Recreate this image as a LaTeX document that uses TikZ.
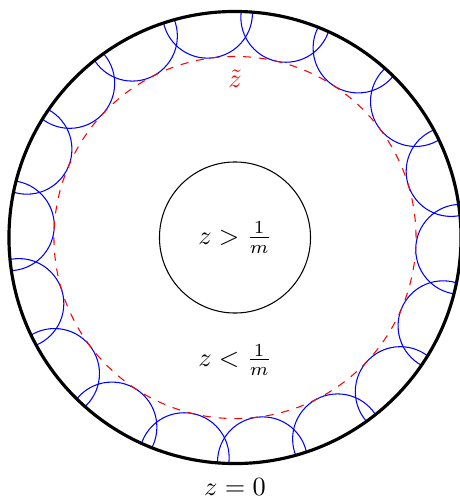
\documentclass[tikz,border=0pt]{standalone}
\usepackage{amsmath}
\usepackage{amssymb}
\usetikzlibrary{positioning, backgrounds}

\begin{document}
\begin{tikzpicture}[
    x=0.38pt, y=0.38pt,
    rim/.style={draw,circle,line width=1.2pt,outer sep=0pt,minimum size=171.8pt,inner sep=0pt},
    core/.style={draw,circle,thin,minimum size=57.4pt,inner sep=0pt},
    level/.style={draw=red,circle,thin,dashed,minimum size=137.6pt,inner sep=0pt},
    bubble/.style={draw=blue,thin},
    tag/.style={inner sep=1pt}
  ]
    \useasboundingbox (-235,-259.5) rectangle (225,237.5);
    \node[rim] (rim) at (0,0) {};
    \node[level] (level) at (rim.center) {};
    \node[core] (core) at (rim.center) {$z>\frac{1}{m}$};
    \node[tag, text=red] (ztilde) at ([yshift=60.4pt]rim.center) {$\tilde{z}$};
    \node[tag] (below) at ([yshift=-46.5pt]rim.center) {$z<\frac{1}{m}$};
    \node[tag, anchor=base] (edge) at ([yshift=-98pt]rim.center) {$z=0$};

    \begin{scope}[on background layer]
      \clip (rim.center) circle[radius=85.9pt];
      \foreach \a in {17.5,37.5,...,357.5}
        \draw[bubble] (rim.\a) circle[radius=17.1pt];
    \end{scope}
  \end{tikzpicture}
\end{document}
